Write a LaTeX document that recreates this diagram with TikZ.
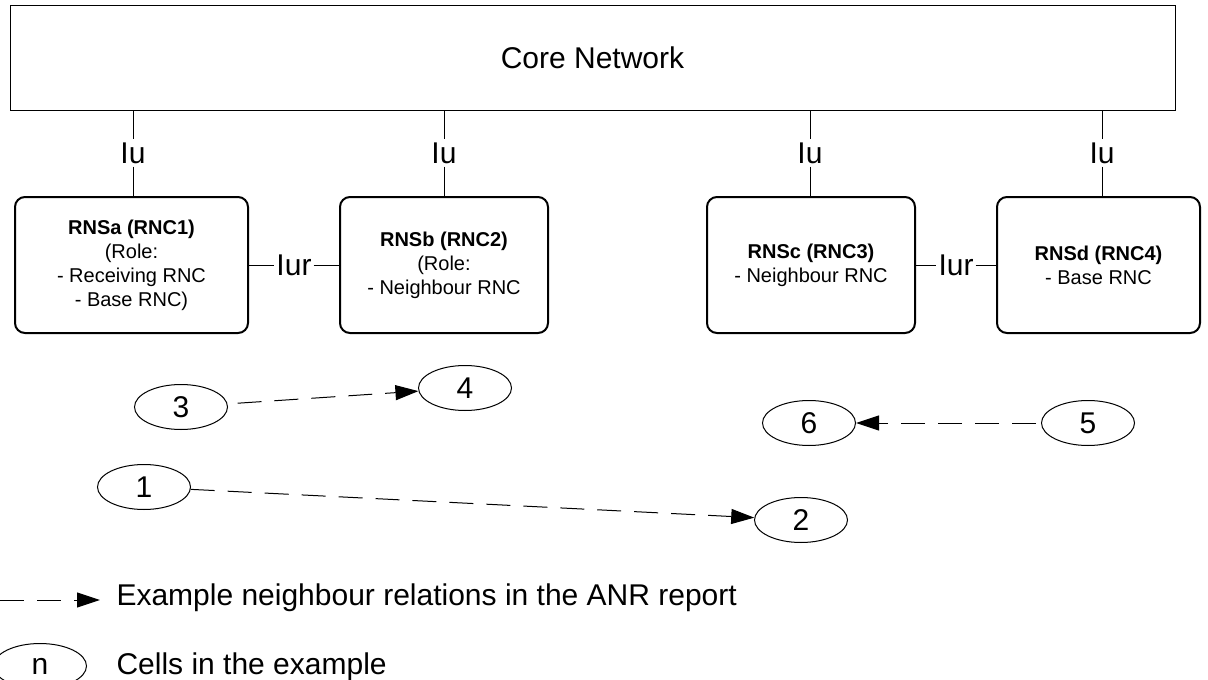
\documentclass[tikz,border=0pt]{standalone}
\usepackage{fontspec}
\setmainfont{Liberation Sans}
\usetikzlibrary{arrows.meta,shapes.geometric}

\begin{document}
\begin{tikzpicture}[x=1pt,y=-1pt,>={Triangle[length=23pt,width=15pt]},
	big/.style={font=\fontsize{30}{36}\selectfont},
	rnc node/.style={draw,rounded corners=10pt,line width=2pt,minimum height=136pt,align=center,font=\fontsize{20}{24}\selectfont},
	cell node/.style={ellipse,draw,line width=1pt,minimum width=93pt,minimum height=45pt,inner sep=0pt,big},
	link/.style={line width=1pt},
	relation/.style={->,line width=1pt,dash pattern=on 24pt off 13pt}]
	
	\useasboundingbox (0,0) rectangle (1208,680);
	
	\node[draw,link,minimum width=1165pt,minimum height=105pt,big] (core) at (592.5,57.5) {Core Network};
	
	\node[rnc node,minimum width=233pt] (rnsa) at (131.5,265) {\textbf{RNSa (RNC1)}\\(Role:\\- Receiving RNC\\- Base RNC)};
	\node[rnc node,minimum width=208pt] (rnsb) at (444,265) {\textbf{RNSb (RNC2)}\\(Role:\\- Neighbour RNC};
	\node[rnc node,minimum width=208pt] (rnsc) at (811,265) {\textbf{RNSc (RNC3)}\\- Neighbour RNC};
	\node[rnc node,minimum width=203pt] (rnsd) at (1098.5,265) {\textbf{RNSd (RNC4)}\\- Base RNC};
	
	\node[big,inner sep=3pt] (iua) at (133,153) {Iu};
	\node[big,inner sep=3pt] (iub) at (444,153) {Iu};
	\node[big,inner sep=3pt] (iuc) at (810,153) {Iu};
	\node[big,inner sep=3pt] (iud) at (1102,153) {Iu};
	
	\node[big,inner sep=2pt] (iurab) at (294,265) {Iur};
	\node[big,inner sep=2pt] (iurcd) at (956,265) {Iur};
	
	\path[link]
	(core.south -| iua) edge (iua)
	(iua) edge (iua |- rnsa.north)
	(core.south -| iub) edge (iub)
	(iub) edge (iub |- rnsb.north)
	(core.south -| iuc) edge (iuc)
	(iuc) edge (iuc |- rnsc.north)
	(core.south -| iud) edge (iud)
	(iud) edge (iud |- rnsd.north)
	(rnsa) edge (iurab)
	(iurab) edge (rnsb)
	(rnsc) edge (iurcd)
	(iurcd) edge (rnsd);
	
	\node[cell node] (c1) at (144,487) {1};
	\node[cell node] (c2) at (801,520) {2};
	\node[cell node] (c3) at (181,407) {3};
	\node[cell node] (c4) at (465,388) {4};
	\node[cell node] (c5) at (1088,423) {5};
	\node[cell node] (c6) at (809,423) {6};
	
	\path[relation]
	(c3) edge[shorten <=10pt] (c4)
	(c5) edge[shorten <=5pt] (c6)
	(c1) edge (c2);
	
	% legend
	\coordinate (lgstart) at (0,600);
	\node[big,anchor=west] (lgrel) at (113,598) {Example neighbour relations in the ANR report};
	\draw[relation,shorten >=13pt] (lgstart) -- (lgrel.west |- lgstart);
	\node[cell node] (lgcell) at (40,666) {n};
	\node[big,anchor=west] (lgcelltxt) at (113,667) {Cells in the example};
\end{tikzpicture}
\end{document}
